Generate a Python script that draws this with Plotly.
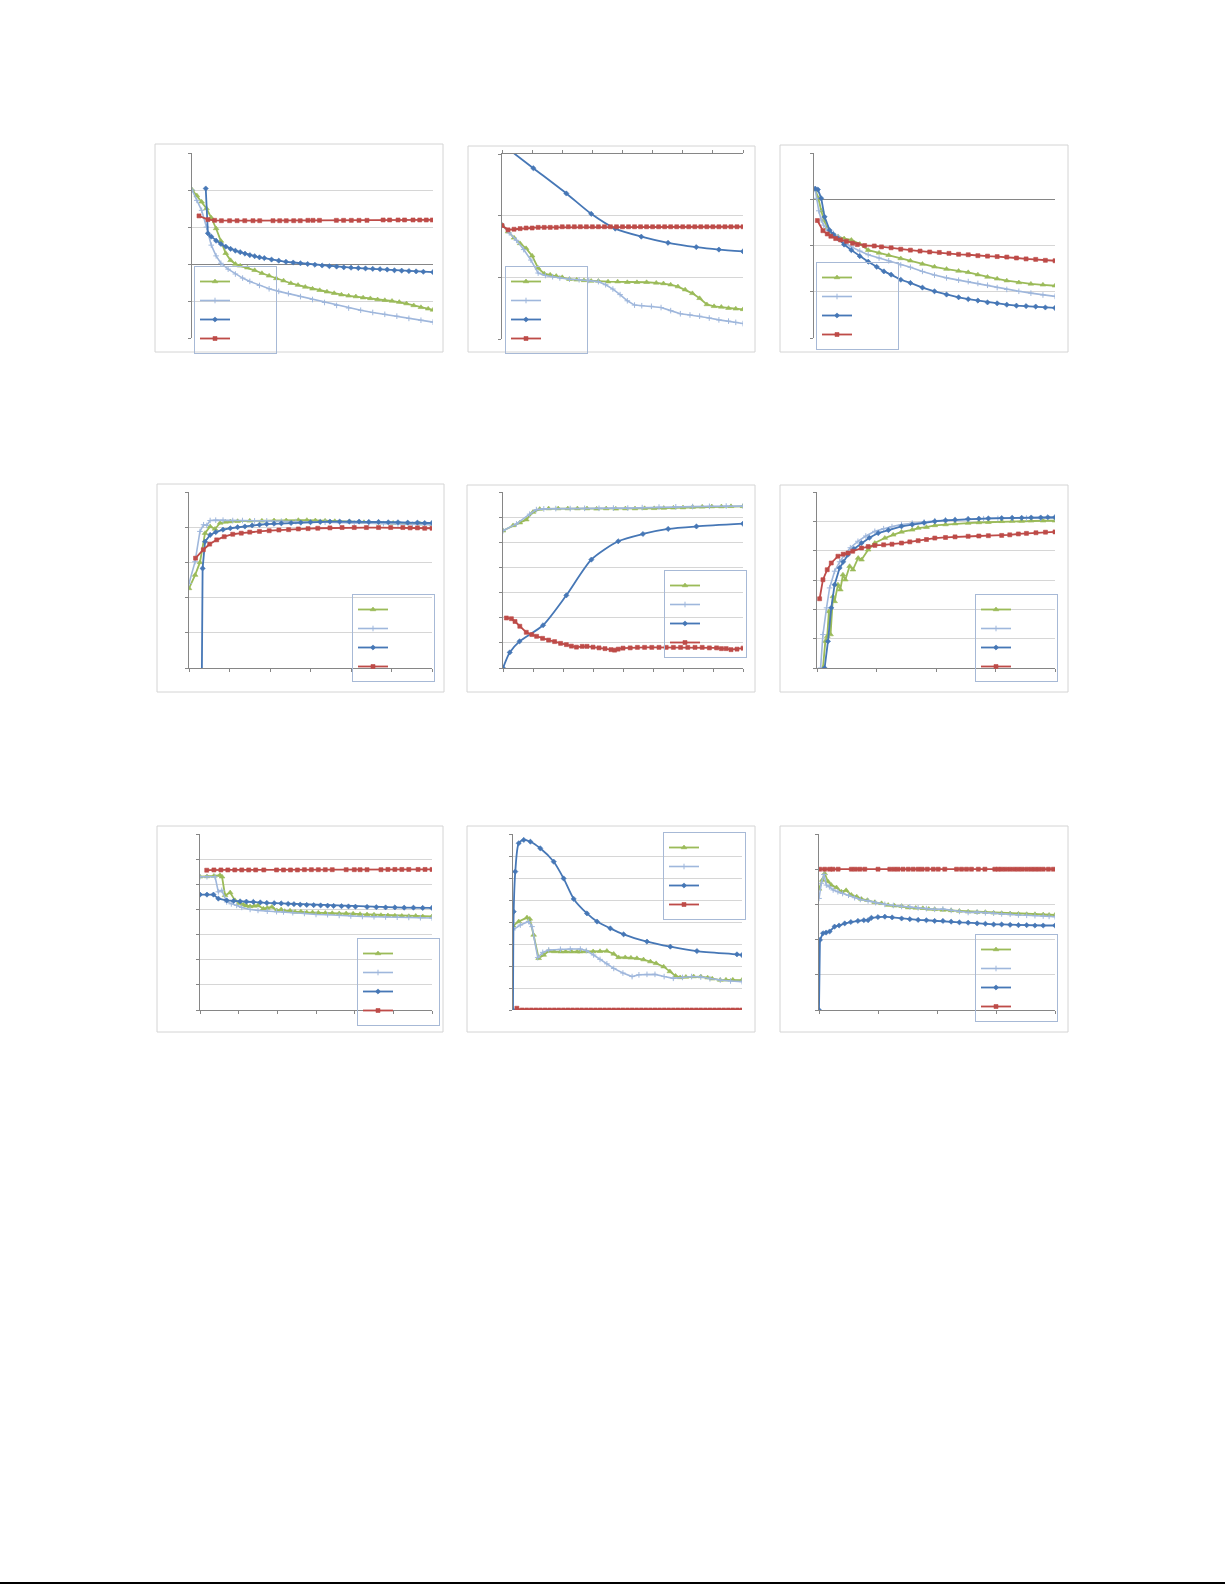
import plotly.graph_objects as go

W, H = 1225, 1585

# ---------------- data (x in % of the axis, y in axis units) ----------------
P1_GREEN = [(0,2.01),(2,1.85),(4,1.68),(6,1.50),(8,1.25),(10,0.96),(12,0.62),(14,0.29),(16,0.10),(18,0.00),(20,-0.05),(23,-0.10),(26,-0.17),(29,-0.25),(32,-0.32),(35,-0.39),(38,-0.45),(41,-0.52),(44,-0.57),(47,-0.62),(50,-0.67),(53,-0.71),(56,-0.75),(59,-0.79),(62,-0.83),(65,-0.86),(68,-0.88),(71,-0.91),(74,-0.93),(77,-0.96),(80,-0.98),(83,-1.00),(86,-1.03),(89,-1.07),(92,-1.12),(95,-1.17),(98,-1.21),(100,-1.24)]
P1_LBLUE = [(0,2.0),(2,1.72),(4,1.45),(6,1.0),(8,0.51),(10,0.22),(12,0.02),(15,-0.14),(18,-0.27),(21,-0.38),(24,-0.47),(28,-0.58),(32,-0.67),(36,-0.74),(40,-0.80),(45,-0.88),(50,-0.96),(55,-1.04),(60,-1.12),(65,-1.19),(70,-1.25),(75,-1.31),(80,-1.36),(85,-1.41),(90,-1.47),(95,-1.52),(100,-1.57)]
P1_DBLUE = [(5.7,2.04),(6.6,0.83),(8,0.74),(10,0.63),(12,0.54),(14,0.47),(16,0.41),(18,0.36),(20,0.32),(22,0.28),(24,0.24),(26,0.21),(28,0.18),(30,0.16),(33,0.12),(36,0.09),(39,0.06),(42,0.04),(45,0.02),(48,0.0),(51,-0.02),(54,-0.04),(57,-0.06),(60,-0.07),(63,-0.09),(66,-0.10),(69,-0.11),(72,-0.12),(75,-0.13),(78,-0.14),(81,-0.15),(84,-0.17),(87,-0.18),(90,-0.19),(93,-0.20),(96,-0.21),(100,-0.22)]
P1_RED = [(2.9,1.30),(6.6,1.20),(9.4,1.18),(12.2,1.17),(15.6,1.17),(18.7,1.17),(21.9,1.17),(25.3,1.17),(28.1,1.17),(33.6,1.17),(36.4,1.17),(39.1,1.17),(42.2,1.17),(44.9,1.17),(48.1,1.18),(50.2,1.18),(52.9,1.18),(59.9,1.18),(62.9,1.18),(66.1,1.18),(69.3,1.18),(72.6,1.18),(79.3,1.19),(82.0,1.19),(85.5,1.19),(88.2,1.19),(91.7,1.19),(94.5,1.19),(97.2,1.19),(99.7,1.19)]

P2_GREEN = [(0,1.85),(2.5,1.74),(5,1.64),(7.5,1.55),(10,1.47),(12.5,1.35),(15,1.15),(17.5,1.06),(20,1.04),(22.5,1.02),(25,1.00),(28,0.97),(31,0.96),(34,0.95),(37,0.94),(40,0.94),(44,0.93),(48,0.93),(52,0.92),(56,0.92),(60,0.92),(64,0.91),(67,0.90),(70,0.88),(73,0.85),(76,0.80),(79,0.74),(82,0.66),(85,0.56),(88,0.53),(91,0.52),(94,0.50),(97,0.49),(100,0.48)]
P2_LBLUE = [(0,1.85),(3,1.72),(6,1.60),(9,1.45),(12,1.28),(15,1.07),(18,1.03),(21,1.01),(24,0.99),(28,0.97),(32,0.96),(36,0.95),(40,0.93),(43,0.88),(46,0.81),(49,0.72),(52,0.62),(55,0.55),(58,0.54),(62,0.53),(66,0.51),(70,0.46),(74,0.41),(78,0.39),(82,0.37),(86,0.34),(90,0.31),(94,0.29),(97,0.27),(100,0.25)]
P2_DBLUE = [(0,3.16),(13,2.77),(26.7,2.36),(37,2.03),(47,1.79),(57.8,1.66),(68.9,1.56),(80.6,1.49),(90,1.45),(100,1.42)]
P2_RED = [(0,1.84),(2.5,1.77),(5,1.78),(7.5,1.79),(10,1.80),(12.5,1.80),(15,1.81),(17.5,1.81),(20,1.81),(22.5,1.81),(25,1.82),(27.5,1.82),(30,1.82),(32.5,1.82),(35,1.82),(37.5,1.82),(40,1.82),(42.5,1.82),(45,1.82),(47.5,1.82),(50,1.82),(52.5,1.82),(55,1.82),(57.5,1.82),(60,1.82),(62.5,1.82),(65,1.82),(67.5,1.82),(70,1.82),(72.5,1.82),(75,1.82),(77.5,1.82),(80,1.82),(82.5,1.82),(85,1.82),(87.5,1.82),(90,1.82),(92.5,1.82),(95,1.82),(97.5,1.82),(100,1.82)]

P3_GREEN = [(0.5,0.21),(1.8,0.02),(3,-0.25),(4.1,-0.45),(5.5,-0.62),(7,-0.74),(8.5,-0.78),(10,-0.81),(12.5,-0.85),(15.5,-0.88),(19,-0.97),(22.5,-1.10),(27,-1.16),(31,-1.21),(36,-1.28),(40,-1.33),(45,-1.40),(50,-1.46),(55,-1.51),(60,-1.55),(64,-1.58),(68,-1.63),(72,-1.68),(76,-1.72),(80,-1.76),(85,-1.80),(90,-1.83),(95,-1.85),(100,-1.87)]
P3_LBLUE = [(0.5,0.21),(1.1,0.02),(2,-0.25),(3,-0.45),(4,-0.56),(5.8,-0.67),(8,-0.74),(10,-0.81),(12.5,-0.92),(15.5,-1.03),(19,-1.12),(22.5,-1.20),(27,-1.27),(31,-1.33),(36,-1.42),(40,-1.47),(45,-1.56),(50,-1.64),(55,-1.70),(60,-1.75),(64,-1.78),(68,-1.82),(72,-1.86),(76,-1.91),(80,-1.95),(85,-1.99),(90,-2.03),(95,-2.07),(100,-2.10)]
P3_DBLUE = [(0.5,0.23),(1.6,0.21),(3,0.02),(4.4,-0.38),(6.5,-0.67),(8,-0.76),(10,-0.85),(12.5,-0.98),(15.5,-1.10),(19,-1.23),(22.5,-1.35),(26,-1.46),(29,-1.56),(32,-1.63),(36,-1.74),(40,-1.81),(45,-1.91),(50,-1.99),(55,-2.06),(60,-2.12),(64,-2.16),(68,-2.19),(72,-2.23),(76,-2.25),(80,-2.28),(84,-2.30),(88,-2.31),(92,-2.32),(96,-2.34),(100,-2.35)]
P3_RED = [(1.4,-0.46),(3.7,-0.68),(5.5,-0.75),(7,-0.80),(9,-0.85),(11,-0.88),(13.5,-0.91),(16,-0.95),(18,-0.98),(21,-1.00),(25,-1.01),(28,-1.03),(32,-1.05),(36,-1.08),(40,-1.10),(44,-1.12),(48,-1.14),(52,-1.15),(56,-1.17),(60,-1.19),(64,-1.20),(68,-1.22),(72,-1.23),(76,-1.24),(80,-1.25),(84,-1.27),(88,-1.29),(92,-1.30),(96,-1.32),(100,-1.33)]

P4_GREEN = [(0,2.26),(2.5,2.64),(4.5,3.0),(6.6,3.83),(8.7,4.02),(10.7,3.95),(12.8,4.12),(15,4.15),(17,4.16),(20,4.17),(25,4.18),(30,4.18),(35,4.19),(40,4.19),(45,4.20),(48.5,4.20),(52,4.19),(56,4.18),(60,4.17),(66,4.16),(72,4.14),(78,4.13),(84,4.12),(90,4.11),(95,4.10),(100,4.09)]
P4_LBLUE = [(0,2.40),(2.5,3.02),(4.5,3.88),(6,4.07),(7.3,4.05),(8.7,4.19),(11,4.20),(14,4.20),(18,4.19),(22,4.19),(27,4.18),(32,4.18),(38,4.17),(44,4.16),(50,4.15),(56,4.14),(62,4.13),(68,4.12),(74,4.11),(80,4.10),(86,4.09),(92,4.08),(100,4.07)]
P4_DBLUE = [(5.2,-1.0),(5.6,2.83),(6.6,3.59),(8.7,3.78),(11,3.86),(14,3.93),(17,3.97),(20,4.00),(23,4.02),(26,4.05),(29,4.07),(32,4.09),(35,4.10),(38,4.11),(42,4.12),(46,4.13),(50,4.14),(54,4.15),(58,4.16),(62,4.16),(66,4.16),(70,4.16),(74,4.15),(78,4.15),(82,4.14),(86,4.14),(90,4.13),(94,4.13),(97,4.12),(100,4.12)]
P4_RED = [(2.7,3.12),(5.9,3.36),(8.5,3.52),(11.4,3.64),(14.5,3.73),(18,3.80),(21.5,3.83),(25,3.86),(29,3.88),(33,3.90),(37,3.92),(41,3.93),(45,3.95),(49,3.96),(53,3.97),(58,3.98),(63,3.99),(68,3.99),(73,3.99),(78,3.99),(83,3.99),(88,3.99),(91,3.98),(94,3.98),(97,3.97),(100,3.97)]

P5_GREEN = [(0,5.46),(4.2,5.67),(7,5.78),(9.7,5.90),(12.5,6.20),(15.3,6.32),(19,6.34),(23,6.34),(27,6.34),(31,6.34),(35,6.34),(39,6.33),(43,6.34),(47,6.33),(51,6.34),(55,6.34),(59,6.35),(63,6.35),(67,6.36),(71,6.37),(75,6.38),(79,6.40),(83,6.41),(87,6.42),(91,6.42),(95,6.43),(100,6.43)]
P5_LBLUE = [(0,5.46),(5.6,5.73),(11.1,6.12),(13.9,6.30),(17,6.33),(22,6.34),(28,6.34),(34,6.35),(40,6.35),(46,6.36),(52,6.36),(58,6.38),(65,6.40),(72,6.41),(79,6.42),(86,6.43),(93,6.44),(100,6.44)]
P5_DBLUE = [(0,0.0),(2.8,0.62),(6.9,1.06),(16.7,1.70),(26.4,2.89),(36.8,4.31),(48,5.04),(58.3,5.33),(68.8,5.53),(80.6,5.63),(100,5.74)]
P5_RED = [(1.4,1.99),(3.5,1.96),(5,1.85),(7,1.66),(9.7,1.42),(12,1.33),(14,1.26),(16.5,1.18),(19,1.11),(21.5,1.05),(24,0.98),(26.4,0.93),(28.5,0.87),(30.6,0.83),(33,0.86),(35,0.86),(37.5,0.83),(40,0.80),(42.5,0.77),(45,0.73),(46.5,0.71),(48,0.75),(50,0.79),(53,0.80),(56,0.82),(59,0.82),(62,0.82),(65,0.82),(68,0.82),(71,0.82),(74,0.82),(77,0.82),(80,0.82),(83,0.82),(86,0.80),(89,0.80),(91,0.77),(93,0.77),(95,0.73),(97.5,0.75),(100,0.79)]

P6_GREEN = [(2.5,-2.0),(3.5,-1.09),(4.3,-0.92),(5.0,-0.07),(5.7,-0.86),(6.7,0.44),(7.4,0.27),(8.8,0.84),(9.8,0.67),(10.9,1.18),(11.9,1.01),(13.7,1.47),(15.1,1.35),(17.3,1.75),(18.7,1.69),(21.5,2.03),(24.3,2.26),(28.5,2.43),(32,2.54),(35.5,2.64),(40,2.71),(42.5,2.77),(46,2.80),(49.5,2.86),(54,2.89),(58,2.92),(63.5,2.94),(68,2.96),(72,2.97),(77.6,3.00),(82,3.01),(86,3.01),(90,3.02),(95,3.02),(100,3.02)]
P6_LBLUE = [(1.5,-2.0),(2.5,-0.86),(4,0.05),(5.3,0.73),(7.4,1.30),(9.5,1.62),(11.6,1.86),(14,2.10),(17.2,2.32),(20.5,2.50),(24.3,2.66),(28,2.75),(31.5,2.82),(35.5,2.89),(40,2.94),(45,2.98),(49.5,3.02),(54,3.04),(58,3.06),(63.5,3.08),(70,3.09),(76,3.10),(82,3.10),(88,3.11),(94,3.11),(100,3.11)]
P6_DBLUE = [(3.2,-2.0),(4.6,-1.09),(6,0.05),(7.4,0.84),(9.5,1.41),(11,1.62),(13,1.86),(15.5,2.06),(18.7,2.26),(22,2.44),(25.7,2.60),(30,2.70),(35.5,2.83),(40,2.89),(45,2.95),(49.5,3.0),(54,3.03),(58,3.05),(63.5,3.08),(68,3.09),(72,3.10),(77.6,3.11),(82,3.12),(86,3.12),(90,3.13),(94,3.13),(97,3.14),(100,3.14)]
P6_RED = [(1.1,0.36),(2.5,1.01),(4.3,1.35),(6,1.58),(8.8,1.81),(11,1.88),(13,1.92),(15,1.98),(18.7,2.09),(21.5,2.14),(24.3,2.18),(28,2.20),(31.5,2.22),(35.5,2.26),(39,2.30),(42.5,2.34),(46,2.38),(49.5,2.43),(54,2.45),(58,2.47),(63.5,2.49),(68,2.50),(72,2.51),(77.6,2.52),(81,2.54),(84.6,2.57),(88,2.59),(92,2.61),(96,2.63),(100,2.64)]

P7_GREEN = [(0,5.30),(3,5.31),(6,5.33),(8.6,5.36),(9.5,5.30),(10.8,4.56),(13,4.67),(15.1,4.36),(17,4.25),(18.7,4.19),(20,4.15),(21.6,4.12),(23.4,4.14),(25,4.16),(27.3,4.03),(29,4.06),(31,4.10),(33.1,3.96),(35,4.00),(36.5,3.93),(38.8,3.95),(41,3.90),(43.5,3.91),(46,3.88),(48.5,3.88),(51,3.87),(54,3.86),(57,3.85),(60,3.84),(63,3.84),(66,3.83),(69,3.81),(72,3.80),(75,3.79),(78,3.77),(81,3.76),(84,3.75),(87,3.74),(90,3.73),(93,3.74),(96,3.72),(100,3.72)]
P7_LBLUE = [(0,5.30),(3,5.30),(6.5,5.30),(7.9,4.70),(9.4,4.76),(11.5,4.30),(13.5,4.22),(15.8,4.16),(18,4.08),(21.6,4.00),(25,3.96),(29,3.93),(33,3.91),(36,3.90),(40,3.87),(45,3.84),(50,3.80),(55,3.79),(60,3.76),(65,3.74),(70,3.72),(75,3.71),(80,3.70),(85,3.69),(90,3.68),(95,3.67),(100,3.66)]
P7_DBLUE = [(0,4.59),(3,4.59),(5.8,4.59),(7.9,4.43),(11.5,4.36),(14.5,4.34),(17.3,4.32),(20,4.31),(23,4.30),(26,4.28),(28.8,4.26),(32,4.25),(35,4.24),(38,4.22),(40.5,4.21),(43.2,4.19),(46,4.18),(49,4.17),(52,4.16),(55,4.15),(57.6,4.14),(61,4.13),(64,4.12),(67,4.11),(72,4.10),(76,4.09),(80,4.08),(84,4.08),(88,4.07),(92,4.07),(96,4.06),(100,4.06)]
P7_RED = [(2.9,5.56),(6,5.57),(9,5.57),(12,5.57),(15,5.57),(18,5.57),(21,5.57),(24,5.57),(27.5,5.57),(33,5.57),(36,5.57),(39,5.57),(42,5.57),(45,5.58),(48,5.58),(51,5.58),(54,5.58),(57,5.58),(63,5.58),(66.5,5.58),(69,5.58),(72,5.58),(78,5.58),(81,5.59),(84,5.59),(87,5.59),(90,5.59),(94,5.59),(97,5.59),(100,5.59)]

P8_GREEN = [(0,3.83),(2.5,4.02),(6.1,4.20),(7.3,4.14),(9,3.41),(11.2,2.35),(13.4,2.50),(15.6,2.68),(18,2.66),(20.7,2.65),(23,2.65),(25.5,2.65),(28,2.65),(29.4,2.65),(32,2.66),(35,2.66),(38,2.67),(41,2.68),(44,2.55),(46.1,2.39),(49,2.39),(51.5,2.37),(54.1,2.35),(57,2.29),(60,2.20),(62.5,2.12),(65.8,1.97),(68.5,1.75),(71,1.55),(73,1.48),(75.5,1.50),(78.9,1.52),(82,1.52),(85,1.47),(87,1.42),(90.5,1.36),(93,1.37),(96,1.37),(100,1.36)]
P8_LBLUE = [(0,3.64),(3.2,3.86),(6.8,4.02),(8.3,3.79),(10.8,2.38),(13,2.62),(15.6,2.73),(20.7,2.76),(25,2.77),(29.4,2.77),(32,2.70),(35.2,2.50),(38,2.30),(41,2.10),(44,1.89),(48,1.68),(52,1.52),(55,1.60),(58.5,1.62),(62,1.62),(66,1.52),(70,1.44),(74,1.48),(78,1.52),(82,1.50),(86,1.42),(90.5,1.36),(95,1.32),(100,1.29)]
P8_DBLUE = [(0,0.0),(0.3,4.47),(1,6.29),(2.5,7.58),(4.7,7.73),(7.6,7.65),(11.9,7.35),(17.8,6.74),(22.1,5.98),(26.5,5.05),(32.3,4.39),(36.7,4.02),(42.5,3.71),(48.3,3.44),(58.5,3.11),(68.7,2.88),(80.3,2.68),(97.8,2.53),(100,2.50)]
P8_RED = [(1.7,0.08),(4,0.0),(6,0.0),(8,0.0),(10,0.0),(12,0.0),(14,0.0),(16,0.0),(18,0.0),(20,0.0),(22,0.0),(24,0.0),(26,0.0),(28,0.0),(30,0.0),(32,0.0),(34,0.0),(36,0.0),(38,0.0),(40,0.0),(42,0.0),(44,0.0),(46,0.0),(48,0.0),(50,0.0),(52,0.0),(54,0.0),(56,0.0),(58,0.0),(60,0.0),(62,0.0),(64,0.0),(66,0.0),(68,0.0),(70,0.0),(72,0.0),(74,0.0),(76,0.0),(78,0.0),(80,0.0),(82,0.0),(84,0.0),(86,0.0),(88,0.0),(90,0.0),(92,0.0),(94,0.0),(96,0.0),(98,0.0),(100,0.0)]

P9_GREEN = [(0,3.44),(1.4,3.69),(2.4,3.88),(3.8,3.65),(5.2,3.55),(7.4,3.48),(9.5,3.36),(11.5,3.40),(13.7,3.27),(16,3.22),(18,3.15),(20.5,3.12),(23.6,3.06),(26.5,3.03),(29.3,2.98),(32,2.96),(35,2.95),(37.8,2.91),(41,2.90),(44,2.89),(46.5,2.87),(49,2.86),(52.5,2.84),(56,2.83),(59.5,2.81),(63.2,2.79),(67,2.78),(70.5,2.78),(74,2.76),(77.4,2.75),(81,2.74),(84.5,2.73),(88,2.72),(91.5,2.72),(95,2.71),(97.5,2.70),(100,2.70)]
P9_LBLUE = [(0,3.17),(1,3.60),(2.1,3.85),(3.1,3.55),(4.4,3.50),(6,3.41),(8,3.36),(10,3.31),(12.5,3.26),(15.1,3.19),(17.5,3.14),(20.8,3.10),(24,3.05),(27.9,3.00),(31.5,2.97),(35,2.94),(38.5,2.93),(42,2.90),(45.5,2.88),(49,2.86),(52.5,2.87),(56,2.83),(59.5,2.80),(63.2,2.77),(67,2.78),(70.5,2.76),(74,2.75),(77.4,2.73),(81,2.72),(84.5,2.70),(88,2.69),(91.5,2.68),(95,2.67),(97.5,2.66),(100,2.65)]
P9_DBLUE = [(0,0.0),(0.4,1.99),(1.7,2.18),(3,2.20),(4.5,2.23),(6.6,2.37),(8.5,2.40),(10.9,2.46),(13.5,2.50),(16.5,2.53),(19,2.55),(20.8,2.55),(22.2,2.62),(25,2.64),(27.9,2.65),(31,2.63),(35,2.60),(38.5,2.58),(42,2.56),(45.5,2.55),(49,2.53),(52.5,2.53),(56,2.51),(59.5,2.49),(63.2,2.48),(67,2.46),(70.5,2.45),(74,2.43),(77.4,2.43),(81,2.42),(84.5,2.41),(88,2.41),(91.5,2.40),(95,2.40),(100,2.40)]
P9_RED = [(0.3,4.0),(2.4,4.0),(4.5,4.0),(5.9,4.0),(8.1,4.0),(13.7,4.0),(15.4,4.0),(17.3,4.0),(19.4,4.0),(25,4.0),(30,4.0),(31.8,4.0),(33.5,4.0),(35.6,4.0),(37.8,4.0),(39.9,4.0),(42,4.0),(43.7,4.0),(45.9,4.0),(48.4,4.0),(50.5,4.0),(53.3,4.0),(58.3,4.0),(60.4,4.0),(62.5,4.0),(64.6,4.0),(67.5,4.0),(70.3,4.0),(74.5,4.0),(75.9,4.0),(77.4,4.0),(79.1,4.0),(80.9,4.0),(82.7,4.0),(84.4,4.0),(86.1,4.0),(88,4.0),(89.8,4.0),(91.5,4.0),(93.2,4.0),(95,4.0),(97.2,4.0),(99.3,4.0)]

SERIES = [
    [P1_GREEN, P1_LBLUE, P1_DBLUE, P1_RED],
    [P2_GREEN, P2_LBLUE, P2_DBLUE, P2_RED],
    [P3_GREEN, P3_LBLUE, P3_DBLUE, P3_RED],
    [P4_GREEN, P4_LBLUE, P4_DBLUE, P4_RED],
    [P5_GREEN, P5_LBLUE, P5_DBLUE, P5_RED],
    [P6_GREEN, P6_LBLUE, P6_DBLUE, P6_RED],
    [P7_GREEN, P7_LBLUE, P7_DBLUE, P7_RED],
    [P8_GREEN, P8_LBLUE, P8_DBLUE, P8_RED],
    [P9_GREEN, P9_LBLUE, P9_DBLUE, P9_RED],
]

# ---------------- styling / layout (pixels on the page) ----------------
STYLES = [
    dict(color="#9bbb59", symbol="triangle-up", size=5, width=1.8, mline=0.6),
    dict(color="#9fb7dc", symbol="cross-thin", size=4, width=1.6, mline=1.0),
    dict(color="#4677b6", symbol="diamond", size=4, width=1.8, mline=0.6),
    dict(color="#be4b48", symbol="square", size=4, width=1.8, mline=0.6),
]
SMOOTH = {(1, 2), (4, 2), (7, 2)}

PANELS = [
    dict(plot=(192, 433, 153, 338), frame=(155, 443, 144, 352), yr=(-2, 3), zero=True, xaxis="none", xdt=None, leg=(194, 266)),
    dict(plot=(502, 743, 154, 339), frame=(468, 755, 146, 352), yr=(0, 3), zero=False, xaxis="top", xdt=12.5, leg=(505, 266)),
    dict(plot=(814, 1055, 153, 338), frame=(780, 1068, 145, 352), yr=(-3, 1), zero=True, xaxis="none", xdt=None, leg=(816, 262)),
    dict(plot=(189, 432, 492, 668), frame=(157, 444, 484, 692), yr=(0, 5), zero=False, xaxis="bottom", xdt=100/6, leg=(352, 594)),
    dict(plot=(503, 743, 492, 668), frame=(467, 755, 485, 692), yr=(0, 7), zero=False, xaxis="bottom", xdt=12.5, leg=(664, 570)),
    dict(plot=(817, 1055, 492, 668), frame=(780, 1068, 485, 692), yr=(-2, 4), zero=False, xaxis="bottom", xdt=25, leg=(975, 594)),
    dict(plot=(200, 432, 834, 1010), frame=(157, 443, 826, 1032), yr=(0, 7), zero=False, xaxis="bottom", xdt=100/6, leg=(357, 938)),
    dict(plot=(513, 742, 834, 1010), frame=(467, 755, 826, 1032), yr=(0, 8), zero=False, xaxis="none", xdt=None, leg=(663, 832)),
    dict(plot=(819, 1055, 834, 1010), frame=(780, 1068, 826, 1032), yr=(0, 5), zero=False, xaxis="bottom", xdt=25, leg=(975, 934)),
]

AXIS = "#868686"
GRID = "#d6d6d6"
NAME = "\u00a0" * 16

fig = go.Figure()
layout = dict(
    width=W, height=H, margin=dict(l=0, r=0, t=0, b=0),
    paper_bgcolor="white", plot_bgcolor="rgba(0,0,0,0)",
    shapes=[], hovermode=False,
)

for i, (panel, series) in enumerate(zip(PANELS, SERIES)):
    n = i + 1
    sfx = "" if n == 1 else str(n)
    x0, x1, y0, y1 = panel["plot"]
    xa = dict(domain=[x0 / W, x1 / W], range=[0, 100], anchor="y" + sfx,
              showgrid=False, zeroline=False, showticklabels=False, fixedrange=True)
    if panel["xaxis"] == "none":
        xa.update(showline=False, ticks="")
    else:
        xa.update(showline=True, linecolor=AXIS, linewidth=1, ticks="outside",
                  ticklen=3, tickcolor=AXIS, tick0=0, dtick=panel["xdt"], side=panel["xaxis"])
    ya = dict(domain=[1 - y1 / H, 1 - y0 / H], range=list(panel["yr"]), anchor="x" + sfx,
              showgrid=True, gridcolor=GRID, gridwidth=1, dtick=1, tick0=0,
              showline=True, linecolor=AXIS, linewidth=1, ticks="outside", ticklen=3,
              tickcolor=AXIS, showticklabels=False, fixedrange=True,
              zeroline=panel["zero"], zerolinecolor=AXIS, zerolinewidth=1)
    layout["xaxis" + sfx] = xa
    layout["yaxis" + sfx] = ya

    lx, ly = panel["leg"]
    layout["legend" + sfx] = dict(
        x=lx / W, y=1 - ly / H, xanchor="left", yanchor="top",
        bgcolor="rgba(255,255,255,0)", bordercolor="#a7b9d6", borderwidth=1,
        font=dict(size=8, family="Liberation Sans"), itemwidth=30,
        tracegroupgap=0,
    )

    for j, (pts, st) in enumerate(zip(series, STYLES)):
        xs = [p[0] for p in pts]
        ys = [p[1] for p in pts]
        shape = "spline" if (i, j) in SMOOTH else "linear"
        fig.add_trace(go.Scatter(
            x=xs, y=ys, mode="lines+markers", name=NAME,
            xaxis="x" + sfx, yaxis="y" + sfx, legend="legend" + sfx,
            line=dict(color=st["color"], width=st["width"], shape=shape, smoothing=0.7),
            marker=dict(symbol=st["symbol"], size=st["size"], color=st["color"],
                        line=dict(width=st["mline"], color=st["color"])),
            showlegend=True,
        ))

    fx0, fx1, fy0, fy1 = panel["frame"]
    layout["shapes"].append(dict(
        type="rect", xref="paper", yref="paper", layer="below",
        x0=fx0 / W, x1=fx1 / W, y0=1 - fy1 / H, y1=1 - fy0 / H,
        line=dict(color="#d4d4d4", width=1), fillcolor="rgba(0,0,0,0)",
    ))

# page rule at the bottom
layout["shapes"].append(dict(type="line", xref="paper", yref="paper",
                             x0=0, x1=1, y0=1 - 1583 / H, y1=1 - 1583 / H,
                             line=dict(color="black", width=2)))

fig.update_layout(**layout)
fig.write_html("out.html", config={"displayModeBar": False, "staticPlot": True},
               post_script="document.body.style.margin='0px';")
